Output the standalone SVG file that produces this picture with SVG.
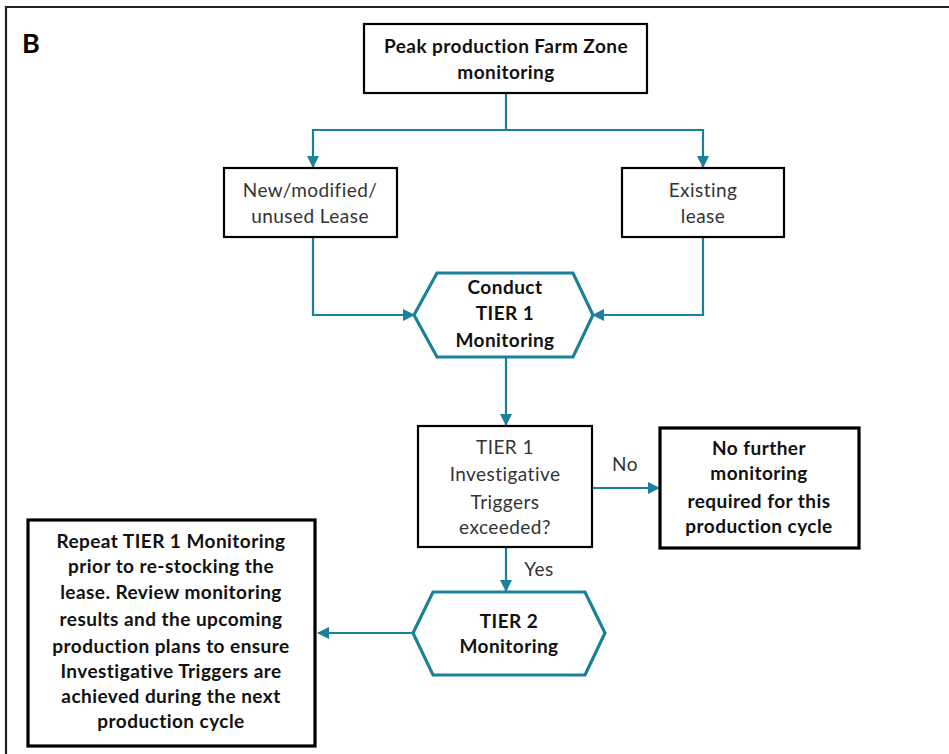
<svg xmlns="http://www.w3.org/2000/svg" width="949" height="754" viewBox="0 0 949 754">
  <style>
    .box { fill: #ffffff; stroke: #000000; stroke-width: 2.2; }
    .box-thick { fill: #ffffff; stroke: #000000; stroke-width: 3.2; }
    .hex { fill: #ffffff; stroke: #1b8199; stroke-width: 3.2; stroke-linejoin: miter; }
    .conn { fill: none; stroke: #1b8199; stroke-width: 2.2; }
    .t { font-family: Lato, "Liberation Sans", sans-serif; font-size: 19px; letter-spacing: 0.45px; text-anchor: middle; font-variant-ligatures: none; }
    .b { font-weight: bold; fill: #111111; }
    .r { fill: #333333; }
  </style>
  <defs>
    <marker id="arrow" viewBox="0 0 12 12" refX="11" refY="6" markerWidth="12" markerHeight="12" markerUnits="userSpaceOnUse" orient="auto">
      <path d="M0,0 L12,6 L0,12 Z" fill="#1b8199"/>
    </marker>
  </defs>

  <!-- panel frame -->
  <path d="M6,754 V7 H949" fill="none" stroke="#222222" stroke-width="2.2"/>
  <text x="22" y="53" font-family="Lato, 'Liberation Sans', sans-serif" font-size="27" font-weight="bold" fill="#000">B</text>

  <g id="connectors">
    <path class="conn" d="M506,93 V130 H313 V167" marker-end="url(#arrow)"/>
    <path class="conn" d="M506,130 H703 V167" marker-end="url(#arrow)"/>
    <path class="conn" d="M313,237 V315 H414" marker-end="url(#arrow)"/>
    <path class="conn" d="M703,237 V315 H593" marker-end="url(#arrow)"/>
    <path class="conn" d="M506,357 V425" marker-end="url(#arrow)"/>
    <path class="conn" d="M592,488 H659" marker-end="url(#arrow)"/>
    <path class="conn" d="M506,547 V591" marker-end="url(#arrow)"/>
    <path class="conn" d="M413,633 H318" marker-end="url(#arrow)"/>
    <text class="t r" x="625" y="471">No</text>
    <text class="t r" x="539" y="576">Yes</text>
  </g>

  <g id="peak">
    <rect class="box" x="364" y="24" width="283" height="69"/>
    <text class="t b" x="506" y="53">Peak production Farm Zone</text>
    <text class="t b" x="506" y="79">monitoring</text>
  </g>

  <g id="new-lease">
    <rect class="box" x="224" y="168" width="173" height="69"/>
    <text class="t r" x="310" y="197">New/modified/</text>
    <text class="t r" x="310" y="223">unused Lease</text>
  </g>

  <g id="existing-lease">
    <rect class="box" x="622" y="168" width="162" height="69"/>
    <text class="t r" x="703" y="197">Existing</text>
    <text class="t r" x="703" y="223">lease</text>
  </g>

  <g id="tier1">
    <polygon class="hex" points="437,273 573,273 593,315 573,357 437,357 414,315"/>
    <text class="t b" x="505" y="294">Conduct</text>
    <text class="t b" x="505" y="320">TIER 1</text>
    <text class="t b" x="505" y="347">Monitoring</text>
  </g>

  <g id="decision">
    <rect class="box" x="418" y="426" width="174" height="121"/>
    <text class="t r" x="505" y="454">TIER 1</text>
    <text class="t r" x="505" y="481">Investigative</text>
    <text class="t r" x="505" y="509">Triggers</text>
    <text class="t r" x="505" y="534">exceeded?</text>
  </g>

  <g id="no-further">
    <rect class="box-thick" x="660" y="428" width="199" height="120"/>
    <text class="t b" x="759" y="455">No further</text>
    <text class="t b" x="759" y="480">monitoring</text>
    <text class="t b" x="759" y="508">required for this</text>
    <text class="t b" x="759" y="533">production cycle</text>
  </g>

  <g id="tier2">
    <polygon class="hex" points="433,592 585,592 605,633 585,675 433,675 413,633"/>
    <text class="t b" x="509" y="628">TIER 2</text>
    <text class="t b" x="509" y="653">Monitoring</text>
  </g>

  <g id="repeat">
    <rect class="box-thick" x="28" y="520" width="287" height="226"/>
    <text class="t b" x="171" y="548">Repeat TIER 1 Monitoring</text>
    <text class="t b" x="171" y="573">prior to re-stocking the</text>
    <text class="t b" x="171" y="599">lease. Review monitoring</text>
    <text class="t b" x="171" y="626">results and the upcoming</text>
    <text class="t b" x="171" y="653">production plans to ensure</text>
    <text class="t b" x="171" y="678">Investigative Triggers are</text>
    <text class="t b" x="171" y="703">achieved during the next</text>
    <text class="t b" x="171" y="728">production cycle</text>
  </g>
</svg>
